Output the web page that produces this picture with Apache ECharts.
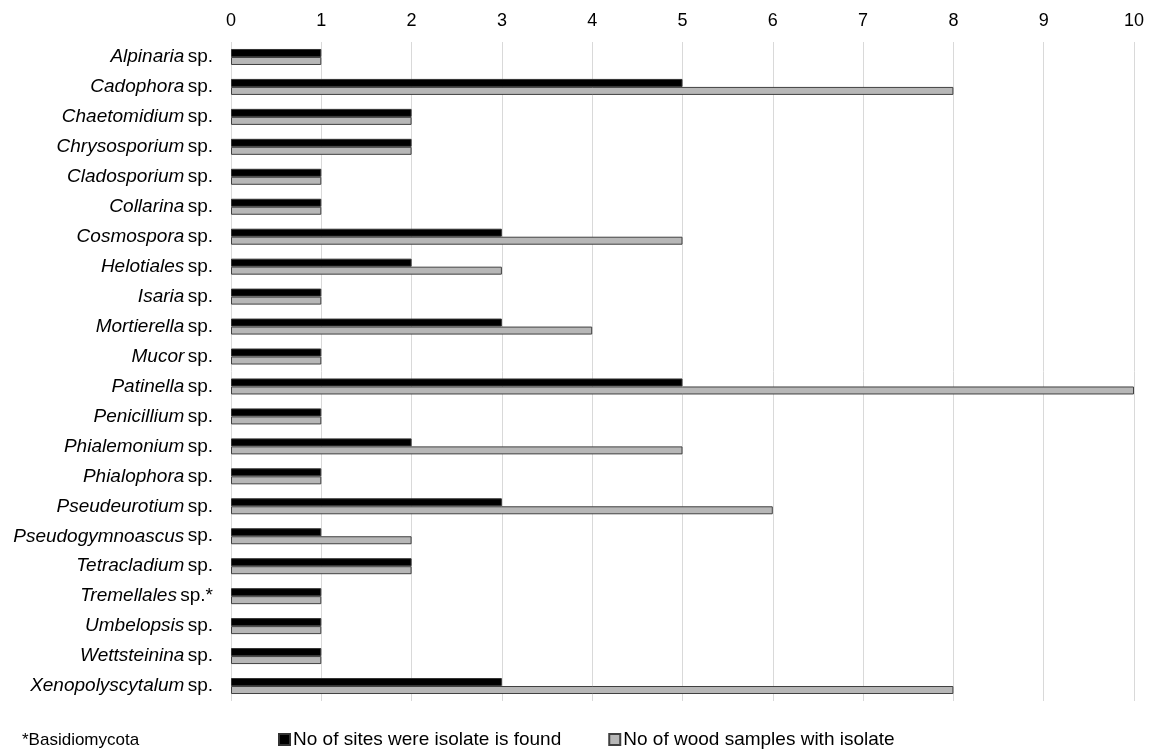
<!DOCTYPE html>
<html>
<head>
<meta charset="utf-8">
<script src="https://cdn.jsdelivr.net/npm/echarts@6/dist/echarts.min.js"></script>
<style>
  html, body { margin: 0; padding: 0; background: #fff; }
  #chart { width: 1149px; height: 754px; }
</style>
</head>
<body>
<div id="chart"></div>
<script>
// genus names (italic) and the suffix after them
const genera = [
  "Alpinaria", "Cadophora", "Chaetomidium", "Chrysosporium", "Cladosporium",
  "Collarina", "Cosmospora", "Helotiales", "Isaria", "Mortierella", "Mucor",
  "Patinella", "Penicillium", "Phialemonium", "Phialophora", "Pseudeurotium",
  "Pseudogymnoascus", "Tetracladium", "Tremellales", "Umbelopsis",
  "Wettsteinina", "Xenopolyscytalum"
];
const suffixes = [
  "sp.", "sp.", "sp.", "sp.", "sp.", "sp.", "sp.", "sp.", "sp.", "sp.", "sp.",
  "sp.", "sp.", "sp.", "sp.", "sp.", "sp.", "sp.", "sp.*", "sp.", "sp.", "sp."
];
const sites = [1, 5, 2, 2, 1, 1, 3, 2, 1, 3, 1, 5, 1, 2, 1, 3, 1, 2, 1, 1, 1, 3];
const samples = [1, 8, 2, 2, 1, 1, 5, 3, 1, 4, 1, 10, 1, 5, 1, 6, 2, 2, 1, 1, 1, 8];

const categories = genera.map((g, i) => g + "|" + suffixes[i]);
const font = "Liberation Sans, Arial, sans-serif";

const chart = echarts.init(document.getElementById("chart"));

const option = {
  animation: false,
  textStyle: { fontFamily: font },
  grid: { left: 231, right: 15, top: 42, height: 659, containLabel: false },
  xAxis: {
    type: "value",
    position: "top",
    min: 0,
    max: 10,
    interval: 1,
    axisLine: { show: false },
    axisTick: { show: false },
    axisLabel: { color: "#000", fontSize: 18, margin: 12 },
    splitLine: { show: true, lineStyle: { color: "#d9d9d9", width: 1 } }
  },
  yAxis: {
    type: "category",
    inverse: true,
    data: categories,
    axisLine: { show: false },
    axisTick: { show: false },
    axisLabel: {
      margin: 18,
      formatter: (v) => {
        const [g, s] = v.split("|");
        return "{i|" + g + "} {n|" + s + "}";
      },
      rich: {
        i: { fontStyle: "italic", fontSize: 19, color: "#000", fontFamily: font },
        n: { fontSize: 19, color: "#000", fontFamily: font }
      }
    }
  },
  legend: {
    top: 725,
    left: 273,
    itemWidth: 11,
    itemHeight: 11,
    itemGap: 47,
    icon: "rect",
    textStyle: { fontSize: 19, color: "#000", padding: [0, 0, 0, -2] },
    data: ["No of sites were isolate is found", "No of wood samples with isolate"]
  },
  graphic: [
    {
      type: "text",
      left: 22,
      top: 732,
      style: { text: "*Basidiomycota", fontSize: 17, fill: "#000", fontFamily: font }
    }
  ],
  series: [
    {
      name: "No of sites were isolate is found",
      type: "bar",
      data: sites,
      barWidth: 8,
      barGap: "0%",
      itemStyle: { color: "#000", borderColor: "#333", borderWidth: 1 }
    },
    {
      name: "No of wood samples with isolate",
      type: "bar",
      data: samples,
      barWidth: 8,
      itemStyle: { color: "#b7b7b7", borderColor: "#404040", borderWidth: 1 }
    }
  ]
};

chart.setOption(option);
window.addEventListener("resize", chart.resize);
</script>
</body>
</html>
